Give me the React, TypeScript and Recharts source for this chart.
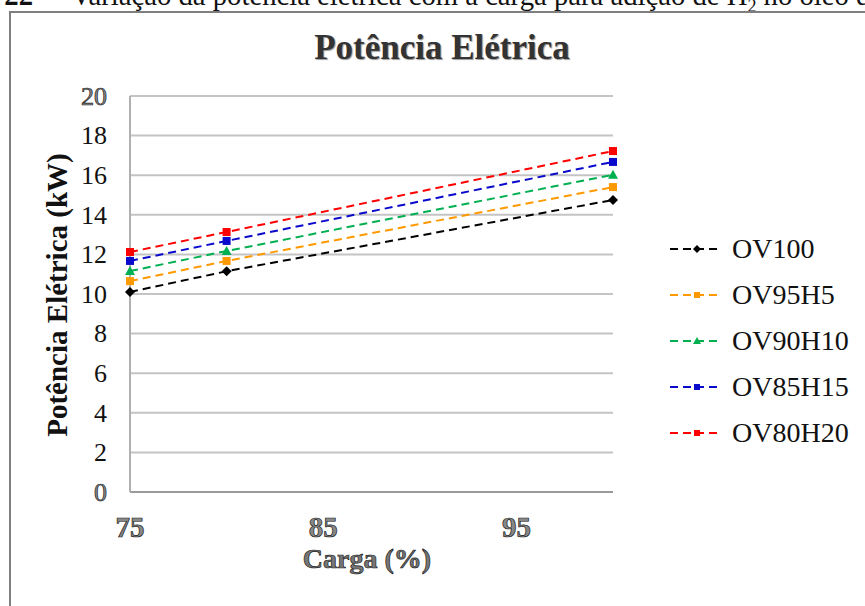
import { LineChart, Line, XAxis, YAxis, CartesianGrid, Legend } from 'recharts';

const CARGA = [75, 80, 100];
const OV100 = [10.1, 11.15, 14.75];
const OV95H5 = [10.65, 11.67, 15.4];
const OV90H10 = [11.16, 12.17, 16.02];
const OV85H15 = [11.67, 12.68, 16.67];
const OV80H20 = [12.12, 13.13, 17.22];

const X_TICKS = [75, 85, 95];
const Y_TICKS = [0, 2, 4, 6, 8, 10, 12, 14, 16, 18, 20];

const SERIES = [
  { key: 'OV100', values: OV100, color: '#000000', shape: 'diamond' },
  { key: 'OV95H5', values: OV95H5, color: '#FF9900', shape: 'square' },
  { key: 'OV90H10', values: OV90H10, color: '#00B050', shape: 'triangle' },
  { key: 'OV85H15', values: OV85H15, color: '#0A0ACC', shape: 'square' },
  { key: 'OV80H20', values: OV80H20, color: '#FF0000', shape: 'square' },
];

const rows = CARGA.map((c, i) => {
  const r: Record<string, number> = { carga: c };
  SERIES.forEach((s) => (r[s.key] = s.values[i]));
  return r;
});

const SERIF = '"Liberation Serif", "Times New Roman", serif';

function Marker({ cx, cy, shape, color, size }: any) {
  if (cx == null || cy == null) return null;
  const h = size / 2;
  if (shape === 'diamond') {
    return <polygon points={`${cx},${cy - h - 1} ${cx + h + 1},${cy} ${cx},${cy + h + 1} ${cx - h - 1},${cy}`} fill={color} />;
  }
  if (shape === 'triangle') {
    return <polygon points={`${cx},${cy - h - 1} ${cx + h + 1},${cy + h} ${cx - h - 1},${cy + h}`} fill={color} />;
  }
  return <rect x={cx - h} y={cy - h} width={size} height={size} fill={color} />;
}

const makeDot = (shape: string, color: string) => (props: any) => (
  <Marker key={`${shape}-${props.index}`} cx={props.cx} cy={props.cy} shape={shape} color={color} size={8} />
);

function YTick({ x, y, payload }: any) {
  const outlined = payload.value === 0 || payload.value === 20;
  return (
    <text
      x={x}
      y={y}
      dy="0.34em"
      textAnchor="end"
      fontFamily={SERIF}
      fontSize={26}
      fill={outlined ? '#888' : '#111'}
      stroke={outlined ? '#222' : 'none'}
      strokeWidth={outlined ? 0.7 : 0}
    >
      {payload.value}
    </text>
  );
}

function XTick({ x, y, payload }: any) {
  return (
    <text
      x={x}
      y={y + 45}
      textAnchor="middle"
      fontFamily={SERIF}
      fontSize={29}
      fontWeight="bold"
      fill="#888"
      stroke="#222"
      strokeWidth={0.7}
    >
      {payload.value}
    </text>
  );
}

function LegendBox({ payload }: any) {
  const items = [...(payload || [])].sort(
    (a: any, b: any) => SERIES.findIndex((s) => s.key === a.value) - SERIES.findIndex((s) => s.key === b.value)
  );
  return (
    <div style={{ fontFamily: SERIF }}>
      {items.map((p: any) => {
        const s = SERIES.find((d) => d.key === p.value)!;
        return (
          <div key={p.value} style={{ height: 46, display: 'flex', alignItems: 'center' }}>
            <svg width={56} height={20} style={{ marginRight: 8 }}>
              <line x1={2} y1={10} x2={54} y2={10} stroke={s.color} strokeWidth={2} strokeDasharray="8 5" />
              <Marker cx={29} cy={10} shape={s.shape} color={s.color} size={6} />
            </svg>
            <span style={{ fontSize: 28, color: '#111', lineHeight: '28px' }}>{p.value}</span>
          </div>
        );
      })}
    </div>
  );
}

const captionStyle = {
  position: 'absolute' as const,
  top: -19,
  whiteSpace: 'nowrap' as const,
  fontFamily: SERIF,
  fontSize: 28.7,
  lineHeight: 1,
  color: '#111',
};

export default function App() {
  return (
    <div style={{ position: 'absolute', left: 0, top: 0, width: 865, height: 606, overflow: 'hidden', background: '#fff' }}>
      <div style={{ ...captionStyle, left: -200, width: 233, textAlign: 'right', fontWeight: 'bold' }}>Figura 22</div>
      <div style={{ ...captionStyle, left: 50 }}>
        – Variação da potência elétrica com a carga para adição de H<sub style={{ fontSize: 18 }}>2</sub> no óleo diesel
      </div>
      <div
        style={{
          position: 'absolute',
          left: 9,
          top: 11,
          width: 900,
          height: 700,
          border: '2px solid #7f7f7f',
        }}
      />
      <div
        style={{
          position: 'absolute',
          left: 192,
          top: 30,
          width: 500,
          textAlign: 'center',
          fontFamily: SERIF,
          fontSize: 35,
          fontWeight: 'bold',
          lineHeight: 1,
          color: '#333',
          textShadow: '1px 1px 1px #999',
        }}
      >
        Potência Elétrica
      </div>
      <div
        style={{
          position: 'absolute',
          left: 57 - 200,
          top: 295 - 16,
          width: 400,
          height: 32,
          lineHeight: '32px',
          textAlign: 'center',
          transform: 'rotate(-90deg)',
          fontFamily: SERIF,
          fontSize: 29,
          fontWeight: 'bold',
          color: '#111',
        }}
      >
        Potência Elétrica (kW)
      </div>
      <div
        style={{
          position: 'absolute',
          left: 117,
          top: 545,
          width: 500,
          textAlign: 'center',
          fontFamily: SERIF,
          fontSize: 28,
          fontWeight: 'bold',
          lineHeight: 1,
          color: '#777',
          WebkitTextStroke: '0.7px #222',
        }}
      >
        Carga (%)
      </div>
      <LineChart
        width={865}
        height={606}
        data={rows}
        margin={{ top: 96, right: 252, bottom: 0, left: 0 }}
        style={{ position: 'absolute', left: 0, top: 0 }}
      >
        <CartesianGrid horizontal vertical={false} stroke="#c4c4c4" strokeWidth={2} />
        <XAxis
          dataKey="carga"
          type="number"
          domain={[75, 100]}
          ticks={X_TICKS}
          height={114}
          tick={<XTick />}
          tickLine={false}
          tickSize={0}
          tickMargin={0}
          axisLine={{ stroke: '#9a9a9a', strokeWidth: 2 }}
        />
        <YAxis
          type="number"
          domain={[0, 20]}
          ticks={Y_TICKS}
          width={130}
          tick={<YTick />}
          tickLine={false}
          tickSize={0}
          tickMargin={23}
          axisLine={{ stroke: '#b0b0b0', strokeWidth: 2 }}
        />
        {SERIES.map((s) => (
          <Line
            key={s.key}
            dataKey={s.key}
            name={s.key}
            type="linear"
            stroke={s.color}
            strokeWidth={2}
            strokeDasharray="8 5"
            dot={makeDot(s.shape, s.color)}
            activeDot={false}
            isAnimationActive={false}
          />
        ))}
        <Legend
          layout="vertical"
          align="center"
          verticalAlign="middle"
          content={<LegendBox />}
          wrapperStyle={{ left: 668, top: 226, width: 190 }}
        />
      </LineChart>
    </div>
  );
}
